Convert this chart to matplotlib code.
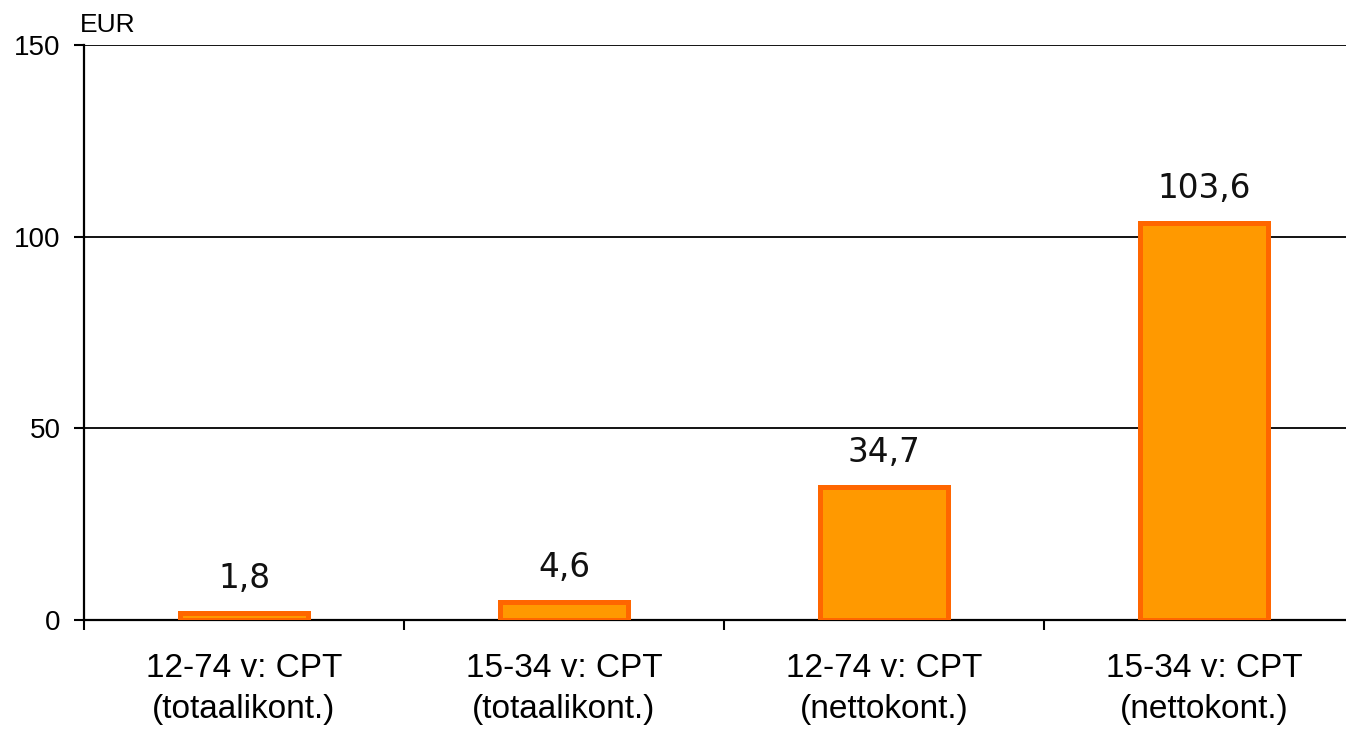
import matplotlib.pyplot as plt
import numpy as np

categories = ['12-74 v: CPT\n(totaalikont.)', '15-34 v: CPT\n(totaalikont.)',
              '12-74 v: CPT\n(nettokont.)', '15-34 v: CPT\n(nettokont.)']
values = [1.8, 4.6, 34.7, 103.6]
value_labels = ['1,8', '4,6', '34,7', '103,6']
yticks = [0, 50, 100, 150]

plt.rcParams['font.family'] = ['Liberation Sans', 'DejaVu Sans']

fig = plt.figure(figsize=(13.46, 7.32), dpi=100)
ax = fig.add_axes([84 / 1346, 112 / 732, 1280 / 1346, 575 / 732])

x = np.arange(len(categories))
ax.bar(x, values, width=0.4, color='#FF9900', edgecolor='#FF6600',
       linewidth=3.6, zorder=3)

for xi, v, lab in zip(x, values, value_labels):
    ax.annotate(lab, (xi, v), xytext=(0, 13), textcoords='offset points',
                ha='center', va='bottom', fontsize=23.5, family='DejaVu Sans',
                color='#111111')

ax.set_xlim(-0.5, 3.5)
ax.set_ylim(0, 150)
ax.set_yticks(yticks)
ax.yaxis.grid(True, color='black', linewidth=1.3, zorder=0)
ax.set_axisbelow(True)

# boundary tick marks between categories, labels centred on bars
ax.set_xticks(np.arange(-0.5, 4, 1.0))
ax.set_xticklabels([])
ax.set_xticks(x, minor=True)
ax.set_xticklabels(categories, minor=True, fontsize=24, linespacing=1.4)
ax.tick_params(axis='x', which='major', length=7, width=1.5, direction='out')
ax.tick_params(axis='x', which='minor', length=0, pad=24)
ax.tick_params(axis='y', length=7, width=1.5, labelsize=20, pad=10)

for side in ['top', 'right']:
    ax.spines[side].set_visible(False)
for side in ['left', 'bottom']:
    ax.spines[side].set_linewidth(1.6)

fig.text(80 / 1346, 1 - 32 / 732, 'EUR', fontsize=19, ha='left', va='baseline')

fig.savefig('out.png', dpi=100)
